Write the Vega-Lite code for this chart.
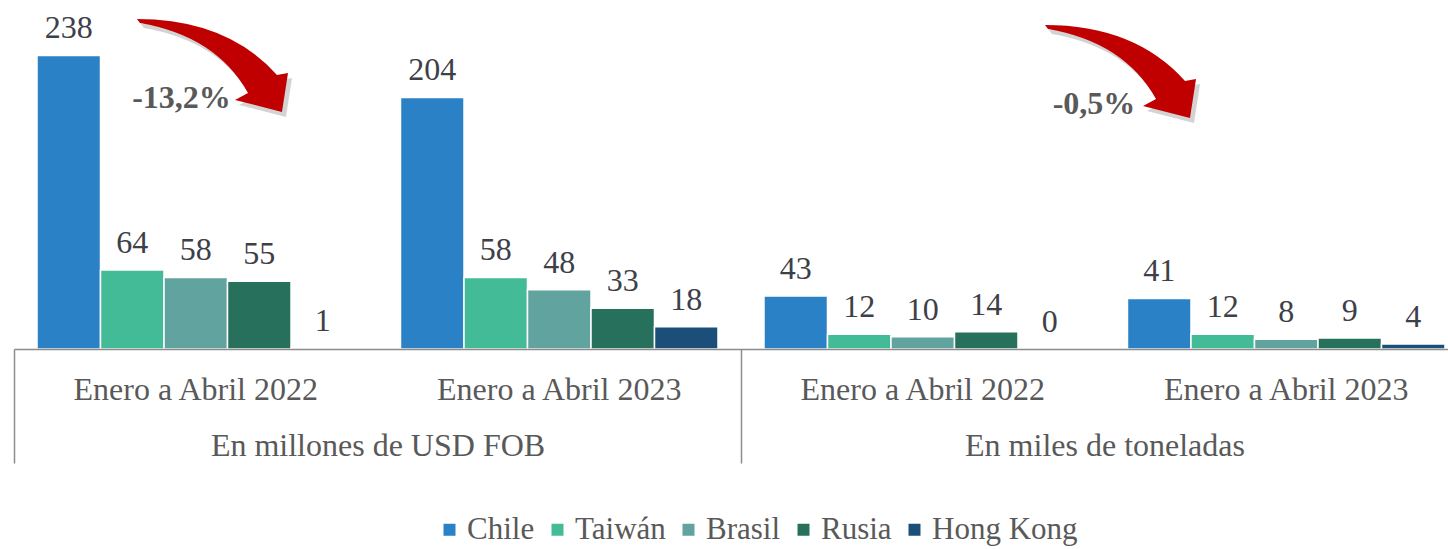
{
  "$schema": "https://vega.github.io/schema/vega-lite/v6.json",
  "autosize": {"type": "none"},
  "width": 1434,
  "height": 349,
  "padding": {"left": 14, "top": 0, "right": 0, "bottom": 200},
  "background": "white",
  "config": {"view": {"stroke": null}, "font": "'Liberation Serif', 'Times New Roman', serif"},
  "datasets": {
    "exportaciones": [
      {"medida": "En millones de USD FOB", "periodo": "Enero a Abril 2022", "cat": "USD|Enero a Abril 2022", "pais": "Chile", "valor": 238},
      {"medida": "En millones de USD FOB", "periodo": "Enero a Abril 2022", "cat": "USD|Enero a Abril 2022", "pais": "Taiwán", "valor": 64},
      {"medida": "En millones de USD FOB", "periodo": "Enero a Abril 2022", "cat": "USD|Enero a Abril 2022", "pais": "Brasil", "valor": 58},
      {"medida": "En millones de USD FOB", "periodo": "Enero a Abril 2022", "cat": "USD|Enero a Abril 2022", "pais": "Rusia", "valor": 55},
      {"medida": "En millones de USD FOB", "periodo": "Enero a Abril 2022", "cat": "USD|Enero a Abril 2022", "pais": "Hong Kong", "valor": 1},
      {"medida": "En millones de USD FOB", "periodo": "Enero a Abril 2023", "cat": "USD|Enero a Abril 2023", "pais": "Chile", "valor": 204},
      {"medida": "En millones de USD FOB", "periodo": "Enero a Abril 2023", "cat": "USD|Enero a Abril 2023", "pais": "Taiwán", "valor": 58},
      {"medida": "En millones de USD FOB", "periodo": "Enero a Abril 2023", "cat": "USD|Enero a Abril 2023", "pais": "Brasil", "valor": 48},
      {"medida": "En millones de USD FOB", "periodo": "Enero a Abril 2023", "cat": "USD|Enero a Abril 2023", "pais": "Rusia", "valor": 33},
      {"medida": "En millones de USD FOB", "periodo": "Enero a Abril 2023", "cat": "USD|Enero a Abril 2023", "pais": "Hong Kong", "valor": 18},
      {"medida": "En miles de toneladas", "periodo": "Enero a Abril 2022", "cat": "TON|Enero a Abril 2022", "pais": "Chile", "valor": 43},
      {"medida": "En miles de toneladas", "periodo": "Enero a Abril 2022", "cat": "TON|Enero a Abril 2022", "pais": "Taiwán", "valor": 12},
      {"medida": "En miles de toneladas", "periodo": "Enero a Abril 2022", "cat": "TON|Enero a Abril 2022", "pais": "Brasil", "valor": 10},
      {"medida": "En miles de toneladas", "periodo": "Enero a Abril 2022", "cat": "TON|Enero a Abril 2022", "pais": "Rusia", "valor": 14},
      {"medida": "En miles de toneladas", "periodo": "Enero a Abril 2022", "cat": "TON|Enero a Abril 2022", "pais": "Hong Kong", "valor": 0},
      {"medida": "En miles de toneladas", "periodo": "Enero a Abril 2023", "cat": "TON|Enero a Abril 2023", "pais": "Chile", "valor": 41},
      {"medida": "En miles de toneladas", "periodo": "Enero a Abril 2023", "cat": "TON|Enero a Abril 2023", "pais": "Taiwán", "valor": 12},
      {"medida": "En miles de toneladas", "periodo": "Enero a Abril 2023", "cat": "TON|Enero a Abril 2023", "pais": "Brasil", "valor": 8},
      {"medida": "En miles de toneladas", "periodo": "Enero a Abril 2023", "cat": "TON|Enero a Abril 2023", "pais": "Rusia", "valor": 9},
      {"medida": "En miles de toneladas", "periodo": "Enero a Abril 2023", "cat": "TON|Enero a Abril 2023", "pais": "Hong Kong", "valor": 4}
    ],
    "variaciones": [
      {"medida": "En millones de USD FOB", "variacion": "-13,2%"},
      {"medida": "En miles de toneladas", "variacion": "-0,5%"}
    ]
  },
  "layer": [
    {
      "data": {"name": "exportaciones"},
      "encoding": {
        "x": {
          "field": "cat", "type": "nominal",
          "scale": {"type": "band", "domain": ["USD|Enero a Abril 2022", "USD|Enero a Abril 2023", "TON|Enero a Abril 2022", "TON|Enero a Abril 2023"], "range": [0, 1454], "paddingInner": 0.1265, "paddingOuter": 0.0633},
          "axis": {"orient": "bottom", "title": null, "zindex": 1, "labelExpr": "split(datum.value, '|')[1]", "labelAngle": 0, "labelFont": "'Liberation Serif', 'Times New Roman', serif", "labelFontSize": 32, "labelColor": "#595959", "labelPadding": 25, "labelLimit": 0, "ticks": false, "tickSize": 0, "domain": true, "domainColor": "#8c8c8c", "domainWidth": 1.5, "grid": false, "labelOverlap": false}
        },
        "xOffset": {"field": "pais", "type": "nominal", "sort": ["Chile", "Taiwán", "Brasil", "Rusia", "Hong Kong"], "scale": {"domain": ["Chile", "Taiwán", "Brasil", "Rusia", "Hong Kong"], "paddingInner": 0, "paddingOuter": 0}},
        "y": {"field": "valor", "type": "quantitative", "scale": {"domain": [0, 283], "nice": false, "zero": true}, "axis": null}
      },
      "layer": [
        {
          "mark": {"type": "bar", "stroke": "white", "strokeWidth": 1.5},
          "encoding": {
            "color": {
              "field": "pais", "type": "nominal",
              "scale": {"domain": ["Chile", "Taiwán", "Brasil", "Rusia", "Hong Kong"], "range": ["#2a81c6", "#43bb97", "#61a39e", "#27705c", "#1b4f79"]},
              "legend": {"title": null, "orient": "none", "legendX": 420, "legendY": 514, "direction": "horizontal", "symbolType": "square", "symbolSize": 144, "symbolStrokeWidth": 0, "symbolOpacity": 1, "labelFont": "'Liberation Serif', 'Times New Roman', serif", "labelFontSize": 31, "labelColor": "#595959", "labelOffset": 2, "labelLimit": 0, "columnPadding": 7, "padding": 0}
            }
          }
        },
        {
          "mark": {"type": "text", "baseline": "alphabetic", "dy": -17, "font": "'Liberation Serif', 'Times New Roman', serif", "fontSize": 32, "color": "#3d4048"},
          "encoding": {"text": {"field": "valor", "type": "quantitative"}}
        }
      ]
    },
    {
      "data": {"name": "variaciones"},
      "layer": [
        {
          "transform": [{"filter": "datum.medida == 'En millones de USD FOB'"}],
          "mark": {"type": "point", "shape": "M -0.981 -0.606 Q 0.181 -0.606 0.826 0.116 L 0.968 0.090 L 0.890 0.594 L 0.284 0.439 L 0.452 0.348 Q 0.039 -0.387 -0.942 -0.555 Z", "size": 24025, "filled": true, "color": "#808080", "opacity": 0.35, "xOffset": 4, "yOffset": 5},
          "encoding": {
            "x": {"field": "medida", "type": "nominal", "bandPosition": 0.2737,
              "scale": {"type": "band", "domain": ["En millones de USD FOB", "En miles de toneladas"], "range": [0, 1454], "paddingInner": 0, "paddingOuter": 0},
              "axis": {"orient": "bottom", "title": null, "labelAngle": 0, "labelFont": "'Liberation Serif', 'Times New Roman', serif", "labelFontSize": 32, "labelColor": "#595959", "labelLimit": 0, "domain": false, "ticks": true, "tickBand": "extent", "tickSize": 114, "tickColor": "#8c8c8c", "tickWidth": 1.5, "labelPadding": -33, "grid": false, "labelOverlap": false}},
            "y": {"datum": 229.5, "type": "quantitative"}
          }
        },
        {
          "transform": [{"filter": "datum.medida == 'En millones de USD FOB'"}],
          "mark": {"type": "point", "shape": "M -0.981 -0.606 Q 0.181 -0.606 0.826 0.116 L 0.968 0.090 L 0.890 0.594 L 0.284 0.439 L 0.452 0.348 Q 0.039 -0.387 -0.942 -0.555 Z", "size": 24025, "filled": true, "color": "#c00000", "opacity": 1},
          "encoding": {
            "x": {"field": "medida", "type": "nominal", "bandPosition": 0.2737,
              "scale": {"type": "band", "domain": ["En millones de USD FOB", "En miles de toneladas"], "range": [0, 1454], "paddingInner": 0, "paddingOuter": 0},
              "axis": {"orient": "bottom", "title": null, "labelAngle": 0, "labelFont": "'Liberation Serif', 'Times New Roman', serif", "labelFontSize": 32, "labelColor": "#595959", "labelLimit": 0, "domain": false, "ticks": true, "tickBand": "extent", "tickSize": 114, "tickColor": "#8c8c8c", "tickWidth": 1.5, "labelPadding": -33, "grid": false, "labelOverlap": false}},
            "y": {"datum": 229.5, "type": "quantitative"}
          }
        },
        {
          "transform": [{"filter": "datum.medida == 'En millones de USD FOB'"}],
          "mark": {"type": "text", "baseline": "middle", "font": "'Liberation Serif', 'Times New Roman', serif", "fontSize": 32, "fontWeight": "bold", "color": "#595959"},
          "encoding": {
            "x": {"field": "medida", "type": "nominal", "bandPosition": 0.2304,
              "scale": {"type": "band", "domain": ["En millones de USD FOB", "En miles de toneladas"], "range": [0, 1454], "paddingInner": 0, "paddingOuter": 0},
              "axis": {"orient": "bottom", "title": null, "labelAngle": 0, "labelFont": "'Liberation Serif', 'Times New Roman', serif", "labelFontSize": 32, "labelColor": "#595959", "labelLimit": 0, "domain": false, "ticks": true, "tickBand": "extent", "tickSize": 114, "tickColor": "#8c8c8c", "tickWidth": 1.5, "labelPadding": -33, "grid": false, "labelOverlap": false}},
            "y": {"datum": 203.5, "type": "quantitative"},
            "text": {"field": "variacion", "type": "nominal"}
          }
        },
        {
          "transform": [{"filter": "datum.medida == 'En miles de toneladas'"}],
          "mark": {"type": "point", "shape": "M -0.981 -0.606 Q 0.181 -0.606 0.826 0.116 L 0.968 0.090 L 0.890 0.594 L 0.284 0.439 L 0.452 0.348 Q 0.039 -0.387 -0.942 -0.555 Z", "size": 24025, "filled": true, "color": "#808080", "opacity": 0.35, "xOffset": 4, "yOffset": 5},
          "encoding": {
            "x": {"field": "medida", "type": "nominal", "bandPosition": 0.5227,
              "scale": {"type": "band", "domain": ["En millones de USD FOB", "En miles de toneladas"], "range": [0, 1454], "paddingInner": 0, "paddingOuter": 0},
              "axis": {"orient": "bottom", "title": null, "labelAngle": 0, "labelFont": "'Liberation Serif', 'Times New Roman', serif", "labelFontSize": 32, "labelColor": "#595959", "labelLimit": 0, "domain": false, "ticks": true, "tickBand": "extent", "tickSize": 114, "tickColor": "#8c8c8c", "tickWidth": 1.5, "labelPadding": -33, "grid": false, "labelOverlap": false}},
            "y": {"datum": 224.6, "type": "quantitative"}
          }
        },
        {
          "transform": [{"filter": "datum.medida == 'En miles de toneladas'"}],
          "mark": {"type": "point", "shape": "M -0.981 -0.606 Q 0.181 -0.606 0.826 0.116 L 0.968 0.090 L 0.890 0.594 L 0.284 0.439 L 0.452 0.348 Q 0.039 -0.387 -0.942 -0.555 Z", "size": 24025, "filled": true, "color": "#c00000", "opacity": 1},
          "encoding": {
            "x": {"field": "medida", "type": "nominal", "bandPosition": 0.5227,
              "scale": {"type": "band", "domain": ["En millones de USD FOB", "En miles de toneladas"], "range": [0, 1454], "paddingInner": 0, "paddingOuter": 0},
              "axis": {"orient": "bottom", "title": null, "labelAngle": 0, "labelFont": "'Liberation Serif', 'Times New Roman', serif", "labelFontSize": 32, "labelColor": "#595959", "labelLimit": 0, "domain": false, "ticks": true, "tickBand": "extent", "tickSize": 114, "tickColor": "#8c8c8c", "tickWidth": 1.5, "labelPadding": -33, "grid": false, "labelOverlap": false}},
            "y": {"datum": 224.6, "type": "quantitative"}
          }
        },
        {
          "transform": [{"filter": "datum.medida == 'En miles de toneladas'"}],
          "mark": {"type": "text", "baseline": "middle", "font": "'Liberation Serif', 'Times New Roman', serif", "fontSize": 32, "fontWeight": "bold", "color": "#595959"},
          "encoding": {
            "x": {"field": "medida", "type": "nominal", "bandPosition": 0.4856,
              "scale": {"type": "band", "domain": ["En millones de USD FOB", "En miles de toneladas"], "range": [0, 1454], "paddingInner": 0, "paddingOuter": 0},
              "axis": {"orient": "bottom", "title": null, "labelAngle": 0, "labelFont": "'Liberation Serif', 'Times New Roman', serif", "labelFontSize": 32, "labelColor": "#595959", "labelLimit": 0, "domain": false, "ticks": true, "tickBand": "extent", "tickSize": 114, "tickColor": "#8c8c8c", "tickWidth": 1.5, "labelPadding": -33, "grid": false, "labelOverlap": false}},
            "y": {"datum": 198.7, "type": "quantitative"},
            "text": {"field": "variacion", "type": "nominal"}
          }
        }
      ]
    }
  ],
  "resolve": {"scale": {"x": "independent"}, "axis": {"x": "independent"}}
}
